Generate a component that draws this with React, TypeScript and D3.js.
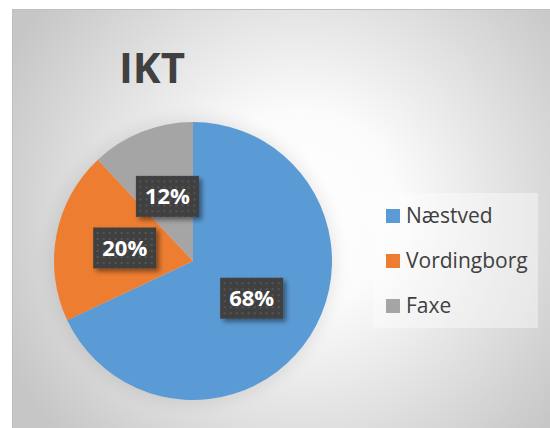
import React, { useEffect, useRef } from "react";
import * as d3 from "d3";

const categories = ["Næstved", "Vordingborg", "Faxe"];
const shares = [68, 20, 12];
const colors = ["#5b9bd5", "#ed7d31", "#a5a5a5"];
const title = "IKT";

export default function App() {
  const ref = useRef<SVGSVGElement>(null);

  useEffect(() => {
    const svg = d3.select(ref.current);
    svg.selectAll("*").remove();

    const W = 550, H = 428;
    const cx = 193, cy = 261, r = 139;

    const defs = svg.append("defs");
    const bg = defs.append("radialGradient")
      .attr("id", "bg")
      .attr("gradientUnits", "userSpaceOnUse")
      .attr("cx", 300).attr("cy", 210).attr("r", 330);
    bg.append("stop").attr("offset", "0%").attr("stop-color", "#ffffff");
    bg.append("stop").attr("offset", "30%").attr("stop-color", "#fbfbfb");
    bg.append("stop").attr("offset", "100%").attr("stop-color", "#c6c6c6");

    const pat = defs.append("pattern")
      .attr("id", "dots")
      .attr("patternUnits", "userSpaceOnUse")
      .attr("width", 6).attr("height", 6);
    pat.append("rect").attr("width", 6).attr("height", 6).attr("fill", "#404040");
    pat.append("rect").attr("x", 2).attr("y", 2).attr("width", 2).attr("height", 2).attr("fill", "#555555");

    const shadow = defs.append("filter").attr("id", "shadow")
      .attr("x", "-30%").attr("y", "-30%").attr("width", "160%").attr("height", "160%");
    shadow.append("feDropShadow")
      .attr("dx", 3).attr("dy", 3).attr("stdDeviation", 2.5)
      .attr("flood-color", "#000").attr("flood-opacity", 0.45);

    const glow = defs.append("filter").attr("id", "glow")
      .attr("x", "-20%").attr("y", "-20%").attr("width", "140%").attr("height", "140%");
    glow.append("feGaussianBlur").attr("stdDeviation", 8);

    // panel
    svg.append("rect")
      .attr("x", 12.5).attr("y", 9.5)
      .attr("width", W).attr("height", H)
      .attr("fill", "url(#bg)")
      .attr("stroke", "#bfbfbf");

    // title
    svg.append("text")
      .attr("x", 152).attr("y", 83)
      .attr("text-anchor", "middle")
      .attr("font-family", "'Open Sans', sans-serif")
      .attr("font-weight", "bold")
      .attr("font-size", 42)
      .attr("fill", "#404040")
      .text(title);

    const pie = d3.pie<number>().sort(null).value(d => d);
    const arcs = pie(shares);
    const arc = d3.arc<d3.PieArcDatum<number>>().innerRadius(0).outerRadius(r);

    const g = svg.append("g").attr("transform", `translate(${cx},${cy})`);

    // soft halo behind pie
    g.append("circle").attr("r", r + 4)
      .attr("fill", "#000").attr("opacity", 0.08)
      .attr("filter", "url(#glow)");

    g.selectAll("path.slice")
      .data(arcs)
      .join("path")
      .attr("class", "slice")
      .attr("d", arc)
      .attr("fill", (d, i) => colors[i]);

    const bw = 63, bh = 41;
    const labels = g.selectAll("g.lbl")
      .data(arcs)
      .join("g")
      .attr("class", "lbl")
      .attr("transform", d => {
        const [x, y] = arc.centroid(d);
        return `translate(${x},${y})`;
      });
    labels.append("rect")
      .attr("x", -bw / 2).attr("y", -bh / 2)
      .attr("width", bw).attr("height", bh)
      .attr("fill", "url(#dots)")
      .attr("filter", "url(#shadow)");
    labels.append("text")
      .attr("text-anchor", "middle")
      .attr("y", 8)
      .attr("font-family", "'Open Sans', sans-serif")
      .attr("font-weight", "bold")
      .attr("font-size", 22)
      .attr("fill", "#ffffff")
      .text(d => `${d.data}%`);

    // legend
    const legend = svg.append("g");
    legend.append("rect")
      .attr("x", 373).attr("y", 193)
      .attr("width", 165).attr("height", 135)
      .attr("fill", "#ffffff").attr("opacity", 0.4);
    const items = legend.selectAll("g.item")
      .data(categories)
      .join("g")
      .attr("class", "item")
      .attr("transform", (d, i) => `translate(386,${209 + i * 45})`);
    items.append("rect")
      .attr("width", 14).attr("height", 14)
      .attr("fill", (d, i) => colors[i]);
    items.append("text")
      .attr("x", 20).attr("y", 14)
      .attr("font-family", "'Open Sans', sans-serif")
      .attr("font-size", 21)
      .attr("fill", "#404040")
      .text(d => d);
  }, []);

  return (
    <svg ref={ref} width={550} height={428}
      style={{ position: "absolute", left: 0, top: 0 }} />
  );
}
